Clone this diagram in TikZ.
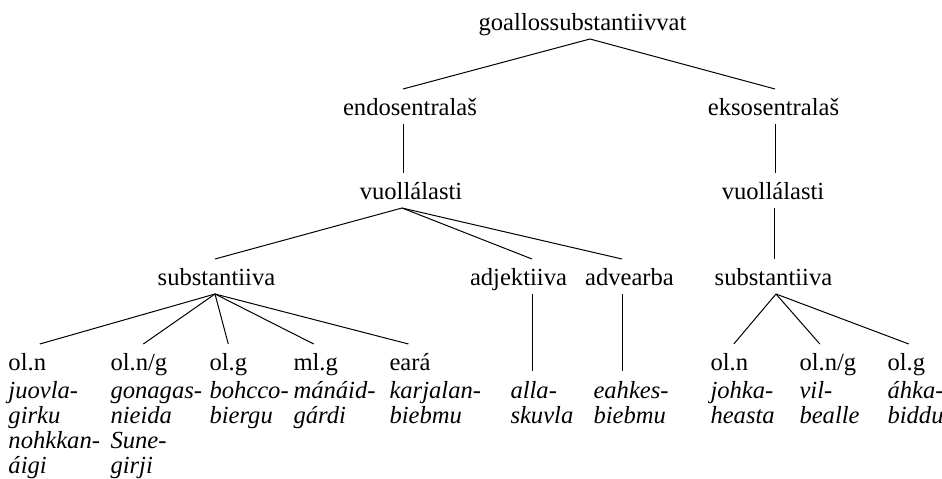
\documentclass[tikz,border=0pt]{standalone}
\usepackage{fontspec}
\setmainfont{Liberation Serif}
\tikzset{
  lbl/.style={font={\fontsize{24.6}{25.3}\selectfont}, inner xsep=0pt, inner ysep=8.5pt,
    text height=17pt, text depth=0pt, anchor=base},
  hd/.style={lbl, anchor=base west},
  ex/.style={font={\fontsize{24.6}{25.3}\selectfont\itshape}, inner xsep=0pt, inner ysep=8.3pt,
    anchor=base west},
}
\newcommand{\exlines}[1]{\begin{tabular}[t]{@{}l@{}}#1\end{tabular}}
\begin{document}
\begin{tikzpicture}[x=1pt, y=-1pt, line width=1pt]
\useasboundingbox (0,0) rectangle (942,479);
% upper levels
\node[lbl] (root) at (582.5,30) {goallossubstantiivvat};
\node[lbl] (endo) at (410,115) {endosentralaš};
\node[lbl] (ekso) at (773.5,115) {eksosentralaš};
\node[lbl] (vuolA) at (411,199) {vuollálasti};
\node[lbl] (vuolB) at (773,199) {vuollálasti};
\node[lbl] (substA) at (216.5,285) {substantiiva};
\node[lbl] (adj) at (518.5,285) {adjektiiva};
\node[lbl] (adv) at (629.5,285) {advearba};
\node[lbl] (substB) at (773.5,285) {substantiiva};
% leaves
\node[hd] (olnA) at (8,370) {ol.n};
\node[hd] (olngA) at (110,370) {ol.n/g};
\node[hd] (olgA) at (209,370) {ol.g};
\node[hd] (mlgA) at (293,370) {ml.g};
\node[hd] (earaA) at (389,370) {eará};
\node[hd] (olnB) at (710,370) {ol.n};
\node[hd] (olngB) at (799,370) {ol.n/g};
\node[hd] (olgB) at (887,370) {ol.g};
\node[ex] (juovlaT) at (8,398) {\exlines{juovla-\\girku\\nohkkan-\\áigi}};
\node[ex] (gonagasT) at (110,398) {\exlines{gonagas-\\nieida\\Sune-\\girji}};
\node[ex] (bohccoT) at (209,398) {\exlines{bohcco-\\biergu}};
\node[ex] (manaidT) at (293,398) {\exlines{mánáid-\\gárdi}};
\node[ex] (karjalanT) at (389,398) {\exlines{karjalan-\\biebmu}};
\node[ex] (allaT) at (510,398) {\exlines{alla-\\skuvla}};
\node[ex] (eahkesT) at (593,398) {\exlines{eahkes-\\biebmu}};
\node[ex] (johkaT) at (710,398) {\exlines{johka-\\heasta}};
\node[ex] (vilT) at (799,398) {\exlines{vil-\\bealle}};
\node[ex] (ahkaT) at (887,398) {\exlines{áhka-\\biddu}};
% branches
\draw ([xshift=7.5pt]root.south) -- ([xshift=-7pt]endo.north);
\draw ([xshift=7.5pt]root.south) -- ([xshift=1.5pt]ekso.north);
\draw ([xshift=-7pt]endo.south) -- ([xshift=-7pt]endo.south |- vuolA.north);
\draw ([xshift=1.5pt]ekso.south) -- ([xshift=1.5pt]ekso.south |- vuolB.north);
\draw ([xshift=1.5pt]vuolB.south) -- ([xshift=1.5pt]vuolB.south |- substB.north);
\foreach \n/\s in {substA/-1.5, adj/13.5, adv/-7.5}
  \draw ([xshift=-9pt]vuolA.south) -- ([xshift=\s pt]\n.north);
\foreach \n/\s in {olnA/12.5, olngA/4.5, olgA/0, mlgA/-2, earaA/-1.5}
  \draw ([xshift=-1.5pt]substA.south) -- ([xshift=\s pt]\n.north);
\draw ([xshift=13.5pt]adj.south) -- ([xshift=13.5pt]adj.south |- allaT.north);
\draw ([xshift=-7.5pt]adv.south) -- ([xshift=-7.5pt]adv.south |- eahkesT.north);
\foreach \n/\s in {olnB/4.5, olngB/-8, olgB/2.5}
  \draw ([xshift=2.5pt]substB.south) -- ([xshift=\s pt]\n.north);
\end{tikzpicture}
\end{document}
